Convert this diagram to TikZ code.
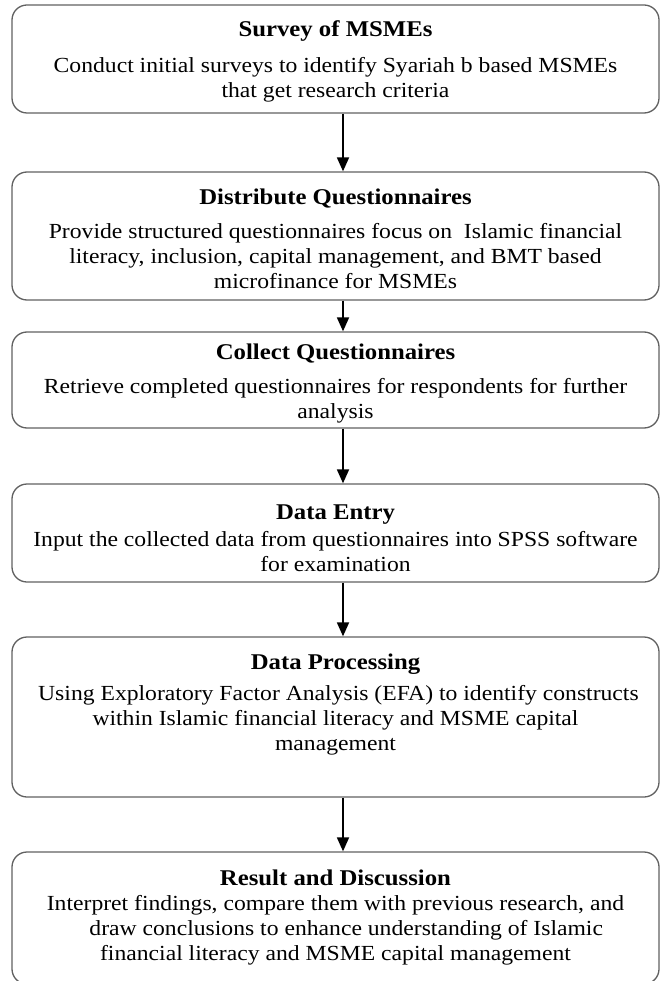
\documentclass[tikz,border=0pt]{standalone}
\usepackage{fontspec}
\setmainfont{Liberation Serif}[FakeStretch=1.1]
\usetikzlibrary{arrows.meta}
\newcommand{\stagehead}[1]{{\fontsize{22.5}{25}\selectfont\bfseries #1}}
\begin{document}
\begin{tikzpicture}[x=1pt,y=-1pt,
  stage/.style={draw=black!62, line width=1.3pt, rounded corners=15pt, fill=white,
                minimum width=647pt, inner sep=0pt},
  body/.style={anchor=north, align=center, inner sep=0pt,
               font=\fontsize{21.5}{25}\selectfont},
  flow/.style={line width=1.8pt, -{Triangle[length=14pt,width=12pt]}}]
\useasboundingbox (0,0) rectangle (661,981);
\clip (0,0) rectangle (661,981);
\fill[white] (0,0) rectangle (661,981);

% stage frames
\node[stage, minimum height=108pt] (b1) at (335.5,59) {};
\node[stage, minimum height=128pt] (b2) at (335.5,236) {};
\node[stage, minimum height=96pt]  (b3) at (335.5,380) {};
\node[stage, minimum height=98pt]  (b4) at (335.5,533) {};
\node[stage, minimum height=160pt] (b5) at (335.5,717) {};
\node[stage, minimum height=132pt] (b6) at (335.5,918) {};

% stage texts
\node[body] (t1) at (335.5,20) {\stagehead{Survey of MSMEs}\\[11pt]
  Conduct initial surveys to identify Syariah b based MSMEs\\
  that get research criteria};
\node[body] (t2) at (335.5,189) {\stagehead{Distribute Questionnaires}\\[9pt]
  Provide structured questionnaires focus on \ Islamic financial\\
  literacy, inclusion, capital management, and BMT based\\
  microfinance for MSMEs};
\node[body] (t3) at (335.5,344) {\stagehead{Collect Questionnaires}\\[9pt]
  Retrieve completed questionnaires for respondents for further\\
  analysis};
\node[body] (t4) at (335.5,505) {\stagehead{Data Entry}\\[2pt]
  Input the collected data from questionnaires into SPSS software\\
  for examination};
\node[body] (t5) at (335.5,654) {\stagehead{Data Processing}\\[6pt]
  \ Using Exploratory Factor Analysis (EFA) to identify constructs\\
  within Islamic financial literacy and MSME capital\\
  management};
\node[body] (t6) at (335.5,870) {\stagehead{Result and Discussion}\\[0pt]
  Interpret findings, compare them with previous research, and\\
  \quad draw conclusions to enhance understanding of Islamic\\
  financial literacy and MSME capital management};

% connectors
\coordinate (ax) at (343,0);
\draw[flow] (b1.south -| ax) -- (b2.north -| ax);
\draw[flow] (b2.south -| ax) -- (b3.north -| ax);
\draw[flow] (b3.south -| ax) -- (b4.north -| ax);
\draw[flow] (b4.south -| ax) -- (b5.north -| ax);
\draw[flow] (b5.south -| ax) -- (b6.north -| ax);
\end{tikzpicture}
\end{document}
